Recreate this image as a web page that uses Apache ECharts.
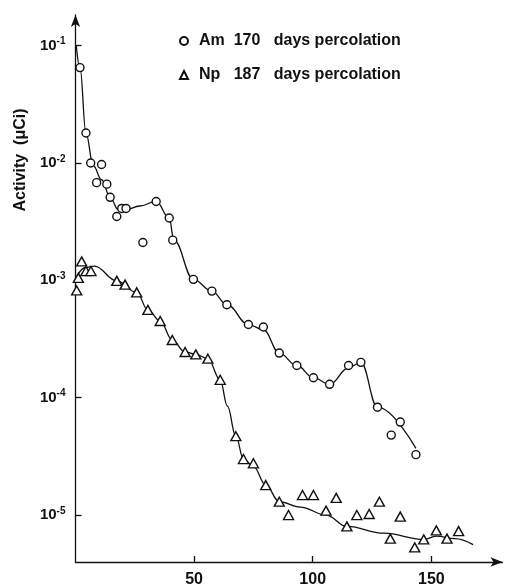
<!DOCTYPE html>
<html>
<head>
<meta charset="utf-8">
<script src="https://cdn.jsdelivr.net/npm/echarts@6/dist/echarts.min.js"></script>
<style>
  html, body { margin: 0; padding: 0; background: #fff; }
  #chart { width: 505px; height: 588px; }
</style>
</head>
<body>
<div id="chart"></div>
<script>
// Am 170 days percolation (measured points)
const amDays = [1.9, 4.4, 6.4, 8.9, 11, 13.2, 14.6, 17.4, 19.5, 21.3, 28.4, 34, 39.5, 41, 49.7, 57.5, 63.8, 72.9, 79.2, 85.9, 93.3, 100.3, 107.1, 115.1, 120.3, 127.3, 133.1, 136.9, 143.5]
const amActivity = [0.065, 0.018, 0.010, 0.0068, 0.0097, 0.0066, 0.0051, 0.0035, 0.0041, 0.0041, 0.0021, 0.0047, 0.0034, 0.0022, 0.00102, 0.00081, 0.00062, 0.00042, 0.00040, 0.00024, 0.000188, 0.000148, 0.00013, 0.000188, 0.0002, 8.3e-5, 4.8e-5, 6.2e-5, 3.27e-5]

// Np 187 days percolation (measured points)
const npDays = [0.5, 1.2, 2.6, 4.4, 6.5, 17.4, 20.9, 25.8, 30.5, 35.7, 40.8, 46.2, 50.7, 55.8, 61, 67.6, 70.8, 75, 80.2, 85.9, 89.8, 95.7, 100.3, 105.6, 109.9, 114.4, 118.6, 123.8, 128.1, 132.7, 136.9, 143, 146.8, 152.1, 156.6, 161.5]
const npActivity = [0.00082, 0.00105, 0.00145, 0.0012, 0.0012, 0.00099, 0.00092, 0.00079, 0.00056, 0.00045, 0.00031, 0.000245, 0.000234, 0.000215, 0.000142, 4.7e-5, 3.0e-5, 2.76e-5, 1.8e-5, 1.3e-5, 1.0e-5, 1.48e-5, 1.48e-5, 1.09e-5, 1.4e-5, 8.0e-6, 1.0e-5, 1.02e-5, 1.3e-5, 6.3e-6, 9.7e-6, 5.3e-6, 6.2e-6, 7.4e-6, 6.3e-6, 7.3e-6]

// hand-drawn fitted curves
const amFitDays = [0.3, 1.9, 4.4, 7.5, 11, 14.6, 18, 21.3, 27, 34, 39.5, 41.5, 49.7, 57.5, 63.8, 72.9, 79.2, 85.9, 93.3, 100.3, 107.1, 115.1, 120.3, 127.3, 143.5]
const amFitActivity = [0.1, 0.065, 0.018, 0.0095, 0.0072, 0.0051, 0.0040, 0.0040, 0.0043, 0.0047, 0.0034, 0.0022, 0.00102, 0.00081, 0.00062, 0.00042, 0.00038, 0.00024, 0.000188, 0.000148, 0.00013, 0.00018, 0.0002, 8.3e-5, 3.7e-5]
const npFitDays = [0.8, 4, 8, 17.4, 25.8, 30.5, 35.7, 40.8, 46.2, 50.7, 55.8, 61, 64, 67.6, 70.8, 75, 80.2, 85.9, 94.7, 105.6, 114.4, 130, 146.8, 152, 160, 167.6]
const npFitActivity = [0.0011, 0.00128, 0.00132, 0.00099, 0.00079, 0.00056, 0.00045, 0.00031, 0.000245, 0.000234, 0.000215, 0.000142, 8.5e-5, 4.7e-5, 3.0e-5, 2.6e-5, 1.8e-5, 1.3e-5, 1.17e-5, 1.0e-5, 8e-6, 7e-6, 6.2e-6, 6.6e-6, 6.3e-6, 5.6e-6]

// axis ticks
const xTicks = [50, 100, 150]
const yTicks = [1e-5, 1e-4, 1e-3, 1e-2, 1e-1]

const amName = 'Am  170   days percolation'
const npName = 'Np   187   days percolation'

const zip = (xs, ys) => xs.map((x, i) => [x, ys[i]])

const chart = echarts.init(document.getElementById('chart'))

const option = {
  backgroundColor: '#ffffff',
  animation: false,
  textStyle: { fontFamily: 'Liberation Sans', color: '#111' },
  grid: { left: 75.5, right: 2.5, top: 15, bottom: 25 },
  legend: {
    data: [amName, npName],
    orient: 'vertical',
    left: 174,
    top: 28,
    itemWidth: 8,
    itemHeight: 8,
    itemGap: 18,
    textStyle: { fontFamily: 'Liberation Sans', fontWeight: 'bold', fontSize: 16, color: '#111', padding: [0, 0, 0, 6] }
  },
  graphic: [
    {
      type: 'text',
      x: 21,
      y: 160,
      rotation: Math.PI / 2,
      style: {
        text: 'Activity  (μCi)',
        font: 'bold 16px "Liberation Sans"',
        fill: '#111',
        align: 'center',
        verticalAlign: 'middle'
      }
    }
  ],
  xAxis: {
    type: 'value',
    min: 0,
    max: 180,
    axisLine: { show: true, symbol: ['none', 'arrow'], symbolSize: [7, 12], lineStyle: { color: '#111', width: 1.3 } },
    axisTick: { show: true, inside: true, length: 6, customValues: xTicks, lineStyle: { color: '#111', width: 1.3 } },
    axisLabel: { customValues: xTicks, margin: 10, fontSize: 16, fontWeight: 'bold', color: '#111' },
    splitLine: { show: false }
  },
  yAxis: {
    type: 'log',
    logBase: 10,
    min: 3.98e-6,
    max: 0.1824,
    axisLine: { show: true, symbol: ['none', 'arrow'], symbolSize: [7, 12], lineStyle: { color: '#111', width: 1.3 } },
    axisTick: { show: true, inside: true, length: 6, customValues: yTicks, lineStyle: { color: '#111', width: 1.3 } },
    axisLabel: {
      customValues: yTicks,
      margin: 10,
      color: '#111',
      formatter: v => '{b|10}{s|' + Math.round(Math.log10(v)) + '}',
      rich: {
        b: { fontSize: 15, fontWeight: 'bold', lineHeight: 18, color: '#111' },
        s: { fontSize: 10, fontWeight: 'bold', verticalAlign: 'top', lineHeight: 11, color: '#111' }
      }
    },
    splitLine: { show: false }
  },
  series: [
    {
      name: amName + ' curve',
      type: 'line',
      data: zip(amFitDays, amFitActivity),
      smooth: 0.4,
      smoothMonotone: 'x',
      showSymbol: false,
      lineStyle: { color: '#111', width: 1.3 },
      z: 1
    },
    {
      name: npName + ' curve',
      type: 'line',
      data: zip(npFitDays, npFitActivity),
      smooth: 0.4,
      smoothMonotone: 'x',
      showSymbol: false,
      lineStyle: { color: '#111', width: 1.3 },
      z: 1
    },
    {
      name: amName,
      type: 'scatter',
      data: zip(amDays, amActivity),
      symbol: 'circle',
      symbolSize: 8,
      itemStyle: { color: '#fff', borderColor: '#111', borderWidth: 1.4, opacity: 1 },
      z: 3
    },
    {
      name: npName,
      type: 'scatter',
      data: zip(npDays, npActivity),
      symbol: 'triangle',
      symbolSize: [10, 9],
      itemStyle: { color: '#fff', borderColor: '#111', borderWidth: 1.4, opacity: 1 },
      z: 3
    }
  ]
}

chart.setOption(option)
</script>
</body>
</html>
